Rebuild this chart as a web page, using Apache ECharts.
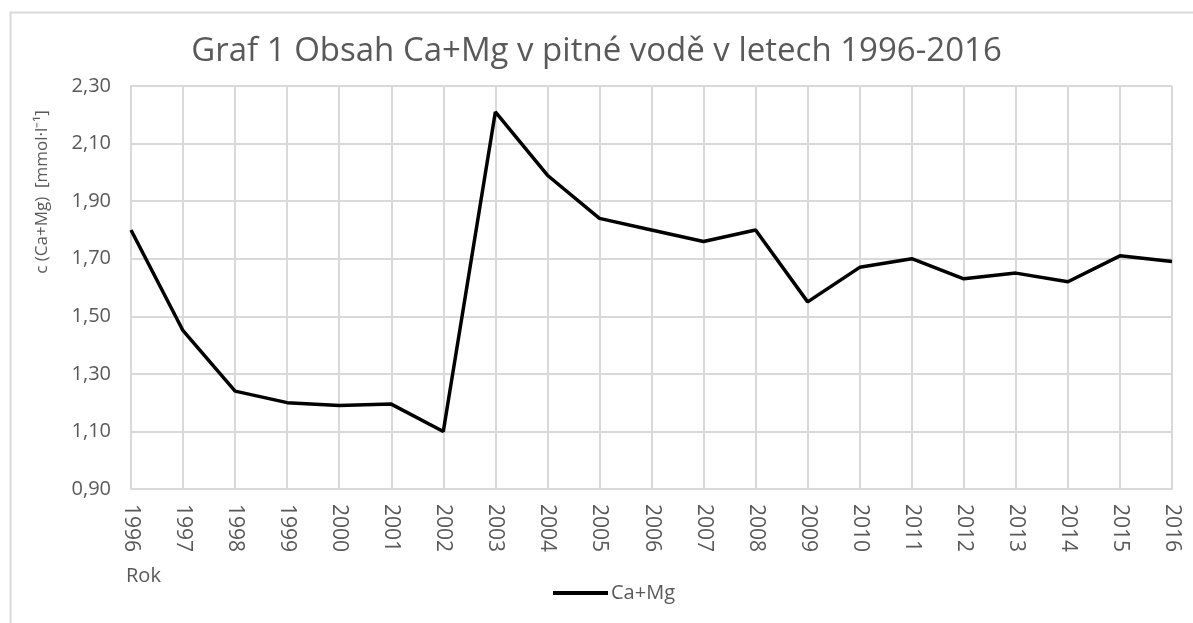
<!DOCTYPE html>
<html>
<head>
<meta charset="utf-8">
<script src="https://cdn.jsdelivr.net/npm/echarts@6/dist/echarts.min.js"></script>
<style>
  html, body { margin: 0; padding: 0; background: #fff; }
  #chart { width: 1193px; height: 623px; }
</style>
</head>
<body>
<div id="chart"></div>
<script>
// roky na ose x
const years = ["1996", "1997", "1998", "1999", "2000", "2001", "2002", "2003", "2004", "2005", "2006",
  "2007", "2008", "2009", "2010", "2011", "2012", "2013", "2014", "2015", "2016"];
// obsah Ca+Mg [mmol/l]
const caMg = [1.80, 1.45, 1.24, 1.20, 1.19, 1.195, 1.10, 2.21, 1.99, 1.84, 1.80,
  1.76, 1.80, 1.55, 1.67, 1.70, 1.63, 1.65, 1.62, 1.71, 1.69];

const fontName = "Open Sans";
const textColor = "#595959";
const gridColor = "#d9d9d9";

const chart = echarts.init(document.getElementById("chart"));
const option = {
  animation: false,
  title: {
    text: "Graf 1 Obsah Ca+Mg v pitné vodě v letech 1996-2016",
    left: "center",
    top: 30,
    textStyle: { fontFamily: fontName, fontSize: 33, fontWeight: "normal", color: textColor },
  },
  grid: { left: 131, right: 21, top: 86, bottom: 134 },
  legend: {
    bottom: 15,
    left: 548,
    data: ["Ca+Mg"],
    icon: "rect",
    itemWidth: 55,
    itemHeight: 4,
    itemGap: 4,
    textStyle: { fontFamily: fontName, fontSize: 20, color: textColor, padding: [0, 0, 0, -2] },
  },
  xAxis: {
    type: "category",
    data: years,
    boundaryGap: false,
    axisLine: { lineStyle: { color: gridColor, width: 2 } },
    axisTick: { show: false },
    splitLine: { show: true, lineStyle: { color: gridColor, width: 2 } },
    axisLabel: {
      rotate: -90,
      margin: 15,
      fontFamily: fontName,
      fontSize: 21,
      color: textColor,
    },
  },
  yAxis: {
    type: "value",
    min: 0.9,
    max: 2.3,
    interval: 0.2,
    axisLine: { show: true, lineStyle: { color: gridColor, width: 2 } },
    axisTick: { show: false },
    splitLine: { lineStyle: { color: gridColor, width: 2 } },
    axisLabel: {
      margin: 20,
      fontFamily: fontName,
      fontSize: 20,
      color: textColor,
      formatter: (v) => v.toFixed(2).replace(".", ","),
    },
  },
  graphic: [
    {
      type: "rect",
      shape: { x: 10.5, y: 12.5, width: 1300, height: 800 },
      style: { fill: "none", stroke: gridColor, lineWidth: 2 },
      silent: true,
    },
    {
      type: "text",
      x: 42,
      y: 192,
      rotation: Math.PI / 2,
      style: {
        text: "c (Ca+Mg)  [mmol·l⁻¹]",
        fontFamily: fontName,
        fontSize: 17,
        fill: textColor,
        align: "center",
        verticalAlign: "middle",
      },
    },
    {
      type: "text",
      left: 126,
      top: 566,
      style: { text: "Rok", fontFamily: fontName, fontSize: 20, fill: textColor },
    },
  ],
  series: [
    {
      name: "Ca+Mg",
      type: "line",
      data: caMg,
      symbol: "none",
      lineStyle: { color: "#000", width: 3.5 },
      itemStyle: { color: "#000" },
    },
  ],
};
chart.setOption(option);
</script>
</body>
</html>
